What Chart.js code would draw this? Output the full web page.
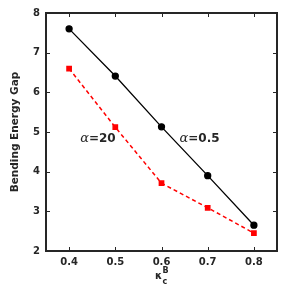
<!DOCTYPE html>
<html>
<head>
<meta charset="utf-8">
<script src="https://cdn.jsdelivr.net/npm/chart.js@4/dist/chart.umd.min.js"></script>
<style>
  html, body { margin: 0; padding: 0; background: #fff; }
  #wrap { width: 290px; height: 300px; }
</style>
</head>
<body>
<div id="wrap"><canvas id="chart" width="290" height="300"></canvas></div>
<script>
// data
const kappaValues = [0.4, 0.5, 0.6, 0.7, 0.8];
const gapAlpha05 = [7.6, 6.41, 5.13, 3.9, 2.65];
const gapAlpha20 = [6.6, 5.12, 3.71, 3.09, 2.45];
const xTicks = [0.4, 0.5, 0.6, 0.7, 0.8];
const yTicks = [2, 3, 4, 5, 6, 7, 8];

const axisColor = '#262626';
const tickFont = { family: 'DejaVu Sans', size: 10, weight: 'bold' };

// inward ticks on all four sides, full box, annotations and axis titles
const framePlugin = {
    id: 'frame',
    afterDraw: function (chart) {
        const ctx = chart.ctx;
        const a = chart.chartArea;
        const xs = chart.scales.x;
        const ys = chart.scales.y;
        ctx.save();
        ctx.strokeStyle = axisColor;
        ctx.lineWidth = 1;
        xTicks.forEach(v => {
            const px = Math.round(xs.getPixelForValue(v)) + 0.5;
            ctx.beginPath();
            ctx.moveTo(px, a.bottom); ctx.lineTo(px, a.bottom - 4);
            ctx.moveTo(px, a.top); ctx.lineTo(px, a.top + 4);
            ctx.stroke();
        });
        yTicks.forEach(v => {
            const py = Math.round(ys.getPixelForValue(v)) + 0.5;
            ctx.beginPath();
            ctx.moveTo(a.left, py); ctx.lineTo(a.left + 4, py);
            ctx.moveTo(a.right, py); ctx.lineTo(a.right - 4, py);
            ctx.stroke();
        });
        ctx.lineWidth = 2;
        ctx.strokeRect(a.left, a.top, a.right - a.left, a.bottom - a.top);

        // series labels
        const label = function (x, y, tail) {
            ctx.textBaseline = 'middle';
            ctx.textAlign = 'left';
            ctx.fillStyle = axisColor;
            ctx.font = 'italic 13px "DejaVu Serif"';
            const px = xs.getPixelForValue(x);
            const py = ys.getPixelForValue(y);
            ctx.fillText('\u03b1', px, py);
            const w = ctx.measureText('\u03b1').width;
            ctx.font = 'bold 12px "DejaVu Sans"';
            ctx.fillText(tail, px + w, py);
        };
        label(0.424, 4.83, '=20');
        label(0.639, 4.83, '=0.5');

        // y title
        ctx.fillStyle = axisColor;
        ctx.font = 'bold 10.5px "DejaVu Sans"';
        ctx.textAlign = 'center';
        ctx.textBaseline = 'middle';
        ctx.save();
        ctx.translate(15, 132);
        ctx.rotate(-Math.PI / 2);
        ctx.fillText('Bending Energy Gap', 0, 0);
        ctx.restore();

        // x title: kappa_c^B
        const cx = xs.getPixelForValue(0.6);
        ctx.font = 'bold 10px "DejaVu Sans"';
        ctx.textAlign = 'center';
        ctx.fillText('\u03ba', cx - 3, 276);
        ctx.font = 'bold 8px "DejaVu Sans"';
        ctx.textAlign = 'left';
        ctx.fillText('B', cx + 1, 270.5);
        ctx.fillText('c', cx + 1, 282);
        ctx.restore();
    }
};

new Chart(document.getElementById('chart'), {
    type: 'line',
    data: {
        datasets: [
            {
                label: 'alpha=0.5',
                data: kappaValues.map((x, i) => ({ x: x, y: gapAlpha05[i] })),
                borderColor: '#000000',
                backgroundColor: '#000000',
                borderWidth: 1.3,
                pointStyle: 'circle',
                pointRadius: 3,
                tension: 0
            },
            {
                label: 'alpha=20',
                data: kappaValues.map((x, i) => ({ x: x, y: gapAlpha20[i] })),
                borderColor: '#ff0000',
                backgroundColor: '#ff0000',
                borderWidth: 1.5,
                borderDash: [4, 3],
                pointStyle: 'rect',
                pointRadius: 3,
                tension: 0
            }
        ]
    },
    options: {
        responsive: false,
        animation: false,
        layout: { padding: { top: 13, right: 13, left: 0, bottom: 0 } },
        plugins: { legend: { display: false }, tooltip: { enabled: false } },
        scales: {
            x: {
                type: 'linear',
                min: 0.35,
                max: 0.85,
                afterBuildTicks: function (scale) {
                    scale.ticks = xTicks.map(v => ({ value: v }));
                },
                afterFit: function (scale) { scale.height = 49; },
                grid: { display: false, drawTicks: false },
                border: { display: false },
                ticks: {
                    color: axisColor,
                    font: tickFont,
                    padding: 5,
                    maxRotation: 0,
                    callback: v => v.toFixed(1)
                }
            },
            y: {
                type: 'linear',
                min: 2,
                max: 8,
                afterBuildTicks: function (scale) {
                    scale.ticks = yTicks.map(v => ({ value: v }));
                },
                afterFit: function (scale) { scale.width = 46; },
                grid: { display: false, drawTicks: false },
                border: { display: false },
                ticks: {
                    color: axisColor,
                    font: tickFont,
                    padding: 6,
                    callback: v => String(v)
                }
            }
        }
    },
    plugins: [framePlugin]
});
</script>
</body>
</html>
